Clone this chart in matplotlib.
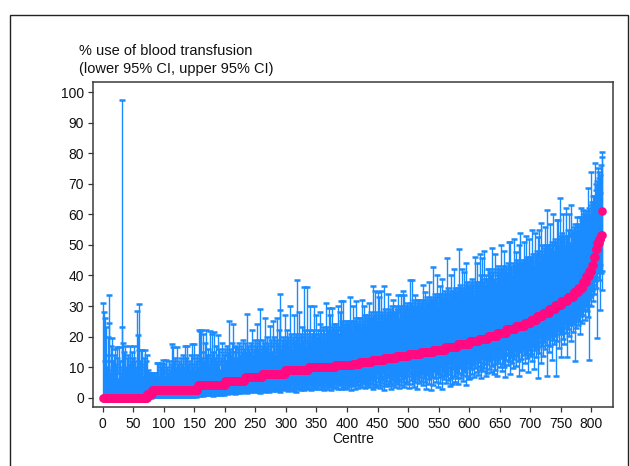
import numpy as np
import matplotlib
matplotlib.use("Agg")
import matplotlib.pyplot as plt
from matplotlib.patches import Rectangle
from matplotlib import font_manager

# ---------------- data ----------------
# sorted point estimates (% use of blood transfusion), as runs: value, number of centres
est_levels = [0.0, 1.3, 2.5, 4.3, 5.6, 6.8, 7.9, 9.0, 10.0, 10.6,
              11.0, 11.6, 12.3, 13.0, 13.6, 14.3, 15.0, 15.7, 16.6, 17.5,
              18.4, 19.2, 20.2, 21.2, 22.4, 23.6,
              24.6, 25.5, 26.6, 27.8, 29.0, 30.3, 31.5, 33.0,
              34.5, 36.0, 38.0, 39.8, 41.5, 43.5, 46.0, 48.5, 50.5, 52.0, 53.2, 61.2]
est_counts = [72, 8, 75, 45, 32, 28, 38, 38, 44, 28,
              12, 20, 20, 20, 20, 20, 20, 20, 20, 20,
              15, 15, 15, 15, 15, 15,
              10, 10, 10, 10, 10, 10, 10, 10,
              8, 7, 6, 5, 4, 3, 3, 3, 3, 3, 2, 1]

# upper 95% CI for each centre (same order)
upper_ci = [
    31, 28, 12, 26, 9, 23, 10, 20, 14, 33.5, 24.5, 8, 12, 17, 19.5, 9, 12, 7, 14, 16,
    11, 8, 16.7, 13, 6, 9, 16.7, 12, 10, 8, 97.5, 23, 18, 12, 15, 7, 17, 10, 9, 13,
    8, 14, 11, 17, 7, 12, 9, 15, 11, 13, 17, 8, 12, 10, 7, 28.5, 20.5, 9, 30.8, 15.5,
    12, 15.5, 9, 11, 15.5, 7, 13, 10, 15.5, 8, 12, 14, 6, 9, 8, 8, 7, 8, 6, 7,
    8, 6, 7, 8, 5, 8, 7, 6, 11.5, 8, 11.5, 7, 9, 11, 6, 10, 11.5, 8, 12.5, 9,
    11, 7, 12.5, 9, 6, 10, 8, 12, 7, 9, 11, 8, 17.5, 10, 16.7, 9, 12, 8, 13, 10,
    9, 16.7, 11, 8, 12, 10, 7, 13, 9, 11, 8, 14, 10, 12, 17, 9, 13, 17, 8, 11,
    10, 12, 9, 14, 8, 11, 17.5, 10, 13, 17.5, 9, 12, 8, 11, 14, 10, 22, 13, 21.7, 12,
    22, 13, 10, 21, 15, 12, 18, 11, 22, 14, 9, 16, 12, 11, 21.7, 14, 10, 13, 21, 12,
    15, 11, 21.5, 13, 10, 17, 12, 14, 20.5, 11, 16, 9, 13, 12, 15, 18, 11, 14, 12, 16,
    14, 12, 17, 11, 15, 25, 13, 16, 12, 14, 18, 11, 15, 24, 13, 17, 12, 15, 16.7, 13,
    16, 12, 18, 14, 11, 17, 13, 15, 19, 12, 16, 14, 18, 13, 15, 27.3, 14, 17, 12, 16,
    15, 18, 13, 17, 22, 14, 16, 12, 19, 15, 17, 24, 18, 16, 14, 19, 13, 28.9, 15, 17,
    16, 19, 14, 18, 15, 26, 17, 14, 20, 16, 18, 15, 13, 23.5, 17, 19, 15, 18, 25, 20,
    17, 14, 19, 16, 26, 15, 18, 22, 17, 28.8, 33.8, 16, 19, 15, 20, 17, 18, 27, 16, 19,
    18, 22, 16, 20, 17, 19, 30, 18, 21, 16, 20, 18, 27, 17, 19, 21, 18, 38.5, 20, 17,
    19, 28, 18, 21, 17, 20, 23, 19, 36.1, 18, 22, 20, 17, 21, 36.1, 19, 22, 18, 20, 30,
    19, 21, 18, 22, 20, 30, 19, 21, 18, 27, 20, 22, 19, 21, 24, 28.1, 20, 22, 19, 21,
    23, 20, 22, 19, 31, 21, 20, 23, 22, 29.2, 21, 27, 20, 22, 29.2, 21, 23, 20, 24, 22,
    21, 24, 22, 20, 30, 23, 21, 28, 22, 31.7, 23, 25, 22, 31.7, 24, 21, 23, 25, 22, 24,
    23, 25, 22, 24, 33, 23, 25, 22, 24, 30, 23, 25, 24, 31.7, 26, 23, 25, 24, 22, 26,
    24, 26, 23, 25, 32, 24, 26, 30, 25, 27, 24, 26, 23, 25, 27, 31, 26, 25, 28, 24,
    26, 25, 36.6, 27, 24, 35, 26, 28, 25, 34.7, 27, 26, 33, 25, 27, 35, 26, 28, 25, 27,
    36.5, 27, 29, 26, 28, 25, 34, 27, 26, 29, 28, 27, 30, 26, 28, 32, 27, 25, 28, 30,
    27, 29, 33.6, 28, 26, 30, 28, 33.6, 29, 27, 35, 28, 30, 33.6, 29, 28, 30, 27, 31, 29,
    28, 30, 38.5, 29, 31, 28, 38.5, 30, 29, 32, 28, 33.5, 30, 31, 29, 32, 31.9, 30, 28, 31,
    30, 32, 29, 31, 37, 30, 32, 34.5, 31, 29, 33, 31, 30, 32, 38, 31, 33, 30, 32, 31,
    42.9, 32, 30, 34, 31, 33, 40, 32, 30, 34, 33, 36.6, 31, 34, 32, 39, 33, 31, 34, 32,
    35, 33, 45.6, 34, 32, 36, 33, 35, 34, 32, 40, 34, 33, 35, 42, 34, 36, 33, 35, 34,
    36, 34, 48.5, 35, 37, 34, 36, 35, 42, 34, 41.2, 36, 35, 37, 44, 36, 38, 35, 37, 36,
    36, 34, 38, 35, 39, 36.8, 37, 34, 46, 36, 38, 35, 44, 36, 37,
    38, 35, 47, 37, 40, 45.6, 38, 36, 39, 48, 37, 40, 36, 39, 38,
    42, 42, 37, 41, 38, 40, 49, 38, 41, 39, 37, 42, 47, 38, 41,
    40, 43, 39, 42, 38, 41, 50, 40, 42, 39, 43, 48, 38, 42, 40,
    43, 41, 44, 40, 50.8, 42, 51, 41, 43, 40, 44, 42, 52, 41, 43,
    47.8, 43, 45, 42, 44, 50, 43, 41, 54, 44, 42, 45, 43, 51, 44,
    45, 43, 53, 44, 46, 42, 45, 52, 44, 46,
    46, 44, 55, 45, 47, 43, 54, 46, 44, 47,
    48, 52.7, 46, 55, 47, 45, 57.2, 48, 46, 50,
    47, 49, 46, 56, 48, 50, 61.4, 49, 48, 50,
    50, 48, 57, 49, 51, 47, 60, 50, 48, 52,
    51, 50, 58.1, 49, 51, 58, 50, 52, 65.2, 53,
    52, 54, 51, 60, 53, 50, 49.4, 52, 62, 53,
    49.4, 55, 53, 60, 50.5, 54, 63, 53, 55, 54,
    56, 54, 53.2, 57, 55, 59.2, 54, 56,
    57, 55, 59, 56, 62, 58, 57,
    59, 61.4, 60, 58, 61, 59,
    60, 58, 68.5, 61, 59,
    62, 60, 63, 73.9,
    64, 66, 62,
    66, 64, 76.9,
    68, 70, 69,
    71, 75, 72,
    74, 67, 73,
    76, 78.6,
    80.5,
]

# lower 95% CI for each centre (same order)
lower_ci = [
    0, 0, 0, 0, 0, 0, 0, 0, 0, 0, 0, 0, 0, 0, 0, 0, 0, 0,
    0, 0, 0, 0, 0, 0, 0, 0, 0, 0, 0, 0, 0, 0, 0, 0, 0, 0,
    0, 0, 0, 0, 0, 0, 0, 0, 0, 0, 0, 0, 0, 0, 0, 0, 0, 0,
    0, 0, 0, 0, 0, 0, 0, 0, 0, 0, 0, 0, 0, 0, 0, 0, 0, 0,
    0.1, 0, 0.2, 0, 0.1, 0.3, 0, 0.2,
    0.5, 0.2, 0.8, 0.3, 1.0, 0.4, 0.6, 0.2, 0.9, 0.5, 0.3, 0.7, 0.4, 1.1, 0.6, 0.2, 0.8, 0.5, 0.3, 0.9,
    0.4, 0.7, 0.2, 1.0, 0.5, 0.3, 0.8, 0.6, 0.2, 0.9, 0.4, 0.7, 0.3, 1.0, 0.5, 0.2, 0.8, 0.4, 0.6, 0.3,
    0.9, 0.5, 0.2, 0.7, 0.4, 1.0, 0.3, 0.6, 0.8, 0.2, 0.5, 0.9, 0.4, 0.7, 0.3, 0.6, 1.0, 0.2, 0.8, 0.5,
    0.3, 0.7, 0.4, 0.9, 0.2, 0.6, 0.8, 0.3, 0.5, 1.0, 0.4, 0.7, 0.2, 0.6, 0.9,
    1.5, 0.8, 2.2, 1.2, 0.6, 1.8, 2.5, 1.0, 1.6, 0.7, 2.0, 1.3, 0.9, 2.3, 1.4, 0.8, 1.9, 1.1, 2.4, 1.5,
    0.9, 1.7, 2.1, 1.0, 1.6, 0.7, 2.2, 1.3, 1.8, 0.8, 2.5, 1.2, 1.5, 0.9, 2.0, 1.4, 1.1, 2.3, 0.8, 1.7,
    1.3, 2.1, 1.0, 1.6, 1.9,
    2.5, 1.5, 3.2, 2.0, 1.2, 2.8, 3.5, 1.8, 2.4, 1.4, 3.0, 2.2, 1.6, 3.3, 2.6, 1.3, 2.9, 2.1, 1.7, 3.1,
    2.3, 1.5, 2.7, 3.4, 1.9, 2.5, 1.4, 3.0, 2.2, 1.8, 2.8, 3.2,
    3.0, 2.0, 3.8, 2.5, 1.6, 3.3, 4.2, 2.2, 2.9, 1.8, 3.6, 2.7, 4.0, 2.1, 3.1, 1.9, 3.5, 2.6, 4.1, 2.3,
    3.2, 2.0, 3.7, 2.8, 1.7, 3.4, 2.4, 3.9,
    3.5, 2.2, 4.5, 3.0, 1.8, 4.0, 2.7, 5.0, 3.3, 2.4, 4.3, 2.0, 3.7, 4.8, 2.6, 3.1, 4.2, 2.3, 3.9, 2.9,
    4.6, 3.4, 2.1, 4.1, 3.6, 2.5, 4.9, 3.2, 2.8, 4.4, 1.9, 3.8, 3.0, 4.7, 2.4, 3.5, 4.0, 2.7,
    4.2, 2.8, 5.5, 3.5, 2.2, 4.8, 3.9, 6.0, 3.1, 2.5, 5.2, 4.4, 2.9, 5.8, 3.6, 2.3, 4.6, 5.0, 1.8, 3.8,
    4.9, 2.7,
    5.3, 3.3, 4.0, 6.1, 2.6, 4.5, 3.1, 5.6, 3.7, 2.4, 5.0, 4.2, 3.4, 5.7, 2.9, 4.4,
    5.0, 3.2, 6.2, 4.1, 2.5, 5.5, 4.6, 6.8, 3.6, 2.9, 5.9, 4.3, 3.3, 6.5, 4.8, 2.7, 5.2, 3.9, 6.0, 4.4,
    3.0, 5.7, 4.0, 6.6, 3.5, 2.6, 5.1, 4.7, 6.3, 3.8, 2.8, 5.4, 4.2, 6.9, 3.4, 5.0, 4.5, 2.4, 6.1, 3.7,
    5.6, 4.9, 3.1, 6.4,
    5.5, 3.5, 6.8, 4.5, 2.7, 6.0, 5.0, 7.2, 4.0, 3.0, 6.4, 4.8, 3.6, 7.0, 5.3, 2.9, 5.8, 4.2, 6.6, 3.3,
    5.1, 7.4, 4.6, 3.8, 6.2, 2.6, 5.6, 4.4,
    5.8, 3.8, 7.2, 4.9, 3.0, 6.4, 5.4, 7.6, 4.3, 3.3, 6.8, 5.1,
    4.0, 7.3, 5.9, 3.5, 6.6, 4.7, 8.0, 5.2, 3.1, 6.9, 4.4, 7.7, 5.6, 3.7, 6.2, 4.9, 8.2, 3.4, 5.8, 7.0,
    4.6, 3.0, 7.5, 5.5, 8.4, 4.1, 6.5, 3.6, 7.9, 5.0, 6.8, 4.3, 8.6, 3.3, 6.0, 7.2, 4.8, 5.7, 8.0, 3.9,
    2.5, 6.3, 8.5, 4.4, 7.3, 5.4, 9.0, 3.7, 6.7, 8.1, 4.9, 2.9, 7.6, 5.9, 8.8, 4.2, 6.4, 3.4, 7.9, 5.1,
    6.9, 4.6, 9.2, 5.6, 3.2, 8.3, 7.1, 4.0, 9.5, 6.1, 5.0, 8.6, 3.6, 7.4, 6.5, 9.0, 4.4, 7.8, 5.3, 8.9,
    3.1, 7.0, 9.6, 5.9, 8.2, 4.5, 9.9, 6.6, 3.5, 8.7, 7.5, 5.1, 9.3, 6.2, 3.0, 8.0, 7.2, 4.8, 9.1, 6.8,
    5.5, 9.8, 7.7, 4.2, 8.9, 6.4, 10.2, 5.0, 8.3, 2.8, 7.3, 9.5, 6.0, 4.6, 10.0, 7.9, 2.5, 8.6, 6.7, 9.2,
    4.0, 8.8, 10.5, 6.3, 9.4, 5.3, 7.8, 10.8, 3.5, 8.1, 9.9, 6.9, 4.8, 10.3, 7.4, 2.7, 9.0, 6.0, 10.6, 7.1,
    8.5, 4.7, 10.9, 7.6, 9.7, 5.8, 11.3, 3.8, 8.9, 10.1, 6.6, 4.4, 11.0, 9.3, 7.0, 10.6, 5.2, 8.2, 11.6, 6.4,
    9.6, 4.6, 11.9, 8.0, 10.4, 6.5, 12.2, 7.4, 10.9, 5.6, 9.0, 11.5, 8.3, 4.2, 12.5, 9.8, 7.1, 11.1, 6.0, 10.2,
    6.3, 11.8, 9.3, 12.8, 7.8, 10.6, 13.1, 6.8, 11.2, 9.7, 12.4, 8.4, 10.0, 13.4, 7.3,
    11.7, 9.0, 13.6, 10.5, 6.3, 12.9, 8.6, 11.3, 14.0, 9.8, 12.2, 7.2, 13.3, 10.9, 8.0,
    12.6, 14.4, 9.5, 11.9, 13.8, 8.3, 12.7, 10.4, 14.7, 7.8, 13.1, 11.0, 9.2, 14.1, 12.3,
    7.0, 13.5, 11.5, 15.0, 9.9, 12.9, 14.4, 8.8, 13.8, 11.0, 15.3, 10.2, 6.9, 14.0, 12.4,
    13.9, 15.8, 10.8, 14.5, 12.0, 16.1, 7.6, 13.3, 15.1, 11.4, 16.4, 9.7, 14.2, 12.7, 15.6,
    10.3, 16.6, 13.6, 15.3, 11.9, 17.0, 7.0, 14.8, 16.2, 12.6, 17.3, 9.2, 15.7, 13.9, 16.8,
    11.5, 17.5, 14.6, 16.4, 12.9, 17.9, 8.4, 15.5, 13.7, 17.1,
    14.2, 18.3, 12.0, 16.7, 18.8, 9.5, 15.6, 17.6, 13.4, 19.0,
    16.3, 19.4, 6.3, 17.8, 14.7, 19.8, 11.2, 18.5, 16.9, 20.1,
    13.8, 20.5, 18.2, 16.0, 21.0, 19.3, 7.0, 17.4, 20.8, 15.1,
    19.9, 21.6, 16.8, 20.4, 22.0, 12.5, 18.9, 21.3, 17.7, 22.4,
    20.2, 7.1, 22.8, 18.6, 21.9, 23.2, 16.3, 22.5, 20.9, 13.4,
    23.6, 21.5, 19.2, 24.0, 22.9, 17.5, 24.4, 21.2, 23.3, 13.4,
    25.0, 22.4, 24.6, 20.1, 25.5, 23.7, 18.6, 25.9, 24.2, 21.6,
    26.3, 24.9, 12.0, 26.8, 22.7, 25.6, 27.2, 23.8,
    27.6, 25.2, 28.1, 21.0, 26.8, 28.6, 24.5,
    29.4, 27.0, 30.1, 25.3, 28.7, 30.6,
    31.0, 28.4, 32.2, 26.5, 30.3,
    12.3, 32.9, 30.0, 33.6,
    34.8, 31.6, 35.5,
    36.9, 33.8, 38.2,
    39.5, 35.9, 40.7,
    19.4, 41.3, 38.6,
    42.8, 28.7, 43.5,
    40.7, 35.2,
    41.5,
]

x_ticks = list(range(0, 801, 50))
y_ticks = list(range(0, 101, 10))
title_lines = ["% use of blood transfusion", "(lower 95% CI, upper 95% CI)"]
x_label = "Centre"

# ---------------- drawing ----------------
plt.rcParams["font.family"] = ["Liberation Sans", "DejaVu Sans"]
installed = {f.name for f in font_manager.fontManager.ttflist}
if "Liberation Sans Narrow" in installed:
    title_family, title_size = ["Liberation Sans Narrow", "Liberation Sans"], 12.3
else:
    title_family, title_size = ["Liberation Sans", "DejaVu Sans"], 10.5

est = np.repeat(np.array(est_levels, float), est_counts)
n = min(len(est), len(upper_ci), len(lower_ci))
est = est[:n]
up = np.array(upper_ci[:n], float)
lo = np.array(lower_ci[:n], float)
centre = np.arange(1, n + 1)

W, H = 630, 466
fig = plt.figure(figsize=(W / 100, H / 100), dpi=100)
ax = fig.add_axes([92.7 / W, 1 - 406.7 / H, (612.7 - 92.7) / W, (406.7 - 82) / H])

blue = "#1b8cff"
magenta = "#ff0a80"
ax.errorbar(centre, est, yerr=[est - lo, up - est], fmt="none", ecolor=blue,
            elinewidth=1.0, capsize=2.3, capthick=1.8, zorder=2)
ax.plot(centre, est, "o", color=magenta, ms=6.2, mec="none", zorder=3)

ax.set_xlim(-16.4, 835)
ax.set_ylim(-2.94, 103.3)
ax.set_xticks(x_ticks)
ax.set_yticks(y_ticks)
ax.tick_params(axis="both", direction="out", length=3.6, width=0.9,
               color="#333333", labelsize=10, labelcolor="#111111")
ax.tick_params(axis="x", pad=4.0)
ax.tick_params(axis="y", pad=2.5)
for s in ax.spines.values():
    s.set_color("#3a3a3a")
    s.set_linewidth(1.1)
ax.set_xlabel(x_label, fontsize=10, labelpad=0.5, color="#111111")

fig.text(79 / W, 1 - 55 / H, title_lines[0], family=title_family,
         fontsize=title_size, va="baseline", ha="left", color="#111111")
fig.text(79 / W, 1 - 73.5 / H, title_lines[1], family=title_family,
         fontsize=title_size, va="baseline", ha="left", color="#111111")

# outer frame of the graph region
fig.patches.append(Rectangle((9.5 / W, -0.2), (628 - 9.5) / W, 0.2 + 1 - 15 / H,
                             transform=fig.transFigure, fill=False,
                             edgecolor="#222222", linewidth=1.0))

fig.savefig("out.png", dpi=100)
